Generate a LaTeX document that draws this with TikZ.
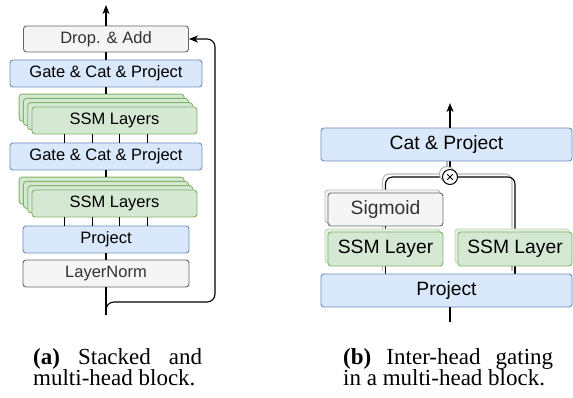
\documentclass[tikz,border=0pt]{standalone}
\usepackage{fontspec}
\setmainfont{Liberation Serif}
\setsansfont{Liberation Sans}
\usetikzlibrary{arrows.meta,shadows,backgrounds}

\definecolor{bluefill}{HTML}{DAE8FC}
\definecolor{blueline}{HTML}{6C8EBF}
\definecolor{greenfill}{HTML}{D5E8D4}
\definecolor{greenline}{HTML}{82B366}
\definecolor{grayfill}{HTML}{F5F5F5}
\definecolor{grayline}{HTML}{666666}

\begin{document}
\begin{tikzpicture}[x=1pt,y=-1pt,
  box/.style={draw, rounded corners=3pt, line width=0.9pt, inner sep=0pt,
    font=\sffamily\fontsize{16.5}{18}\selectfont},
  blk/.style={box, fill=bluefill, draw=blueline},
  ssm/.style={box, fill=greenfill, draw=greenline},
  nrm/.style={box, fill=grayfill, draw=grayline, text=black!80},
  big/.style={font=\sffamily\fontsize{19.3}{22}\selectfont},
  wire/.style={line width=1.1pt},
  arr/.style={wire, -{Stealth[length=9pt,width=7pt,inset=2.5pt]}},
  ghost/.style={line width=1.1pt, draw=gray!55, transform canvas={xshift=-3pt,yshift=3pt}},
  shd/.style={copy shadow={shadow xshift=-3pt, shadow yshift=3pt, #1}},
  subcap/.style={anchor=north west, inner sep=0pt, align=justify,
    font=\rmfamily\fontsize{23}{21.5}\selectfont},
]
  \useasboundingbox (0,0) rectangle (573,398);

  % (a) stacked block
  \node[nrm, minimum width=165, minimum height=26] (drop) at (106,39) {Drop. \& Add};
  \node[blk, minimum width=192, minimum height=27] (gate1) at (106,73.5) {Gate \& Cat \& Project};
  \foreach \k in {3,2,1}
    \node[ssm, minimum width=165, minimum height=27] (s1b\k) at (114.5-4.3*\k,120.5-4.3*\k) {};
  \node[ssm, minimum width=165, minimum height=27] (s1) at (114.5,120.5) {SSM Layers};
  \node[blk, minimum width=192, minimum height=27] (gate2) at (106,156.5) {Gate \& Cat \& Project};
  \foreach \k in {3,2,1}
    \node[ssm, minimum width=165, minimum height=27] (s2b\k) at (114.5-4.3*\k,203.5-4.3*\k) {};
  \node[ssm, minimum width=165, minimum height=27] (s2) at (114.5,203.5) {SSM Layers};
  \node[blk, minimum width=166, minimum height=27] (proj1) at (106,239.5) {Project};
  \node[nrm, minimum width=166, minimum height=27] (norm) at (106,273.5) {LayerNorm};

  \coordinate (out1) at (106,5);
  \coordinate (in1) at (106,315);
  \coordinate (res) at (215,39);

  \draw[arr] (drop.north) -- (out1);
  \draw[wire] (gate1.north) -- (drop.south);
  \draw[wire] (gate1.south) -- (gate1.south |- s1b3.north);
  \foreach \dx in {33,60.5,88,115.5}
    \draw[wire] ([xshift=\dx pt]s1.south west) -- ([xshift=\dx pt]s1.south west |- gate2.north);
  \draw[wire] (gate2.south) -- (gate2.south |- s2b3.north);
  \foreach \dx in {33,60.5,88,115.5}
    \draw[wire] ([xshift=\dx pt]s2.south west) -- ([xshift=\dx pt]s2.south west |- proj1.north);
  \draw[wire] (proj1.south) -- (norm.north);
  \draw[wire] (norm.south) -- (in1);
  \draw[arr, rounded corners=8pt] (in1) -- ++(0,-13) -| (res) -- (drop.east);

  % (b) inter-head gating
  \node[blk, big, minimum width=251, minimum height=33] (cat) at (446.5,144.5) {Cat \& Project};
  \node[circle, draw, fill=white, line width=1pt, minimum size=15, inner sep=0pt,
    shd={draw=gray!60}] (mul) at (450,177) {};
  \draw[line width=1pt] ([shift={(-2.8,-2.8)}]mul.center) -- ([shift={(2.8,2.8)}]mul.center)
    ([shift={(-2.8,2.8)}]mul.center) -- ([shift={(2.8,-2.8)}]mul.center);
  \node[nrm, big, minimum width=115, minimum height=33,
    shd={draw=gray!50, fill=gray!10}] (sig) at (385.5,209.5) {Sigmoid};
  \node[ssm, big, minimum width=115, minimum height=34,
    shd={draw=greenline!50, fill=greenfill!70}] (ssml) at (385.5,249) {SSM Layer};
  \node[ssm, big, minimum width=114, minimum height=34,
    shd={draw=greenline!50, fill=greenfill!70}] (ssmr) at (515,249) {SSM Layer};
  \node[blk, big, minimum width=251, minimum height=33] (proj2) at (446.5,290.5) {Project};

  \coordinate (out2) at (450,103);
  \coordinate (in2) at (450,322);

  \draw[arr] (mul |- cat.north) -- (out2);
  \draw[wire] (in2 |- proj2.south) -- (in2);
  \begin{scope}[on background layer]
    \foreach \sty in {ghost, wire} {
      \draw[\sty] (mul.north) -- (mul |- cat.south);
      \draw[\sty, rounded corners=7pt] (mul.west) -| (sig.north);
      \draw[\sty, rounded corners=7pt] (mul.east) -| (ssmr.north);
      \draw[\sty] (sig.south) -- (ssml.north);
      \draw[\sty] (ssml.south) -- (ssml.south |- proj2.north);
      \draw[\sty] (ssmr.south) -- (ssmr.south |- proj2.north);
    }
  \end{scope}

  % captions
  \node[subcap, text width=169pt] (capa) at (33,348) {\textbf{(a)} Stacked and\linebreak multi-head block.};
  \node[subcap, text width=210pt] (capb) at (343,348) {\textbf{(b)} Inter-head gating\linebreak in a multi-head block.};
\end{tikzpicture}
\end{document}
